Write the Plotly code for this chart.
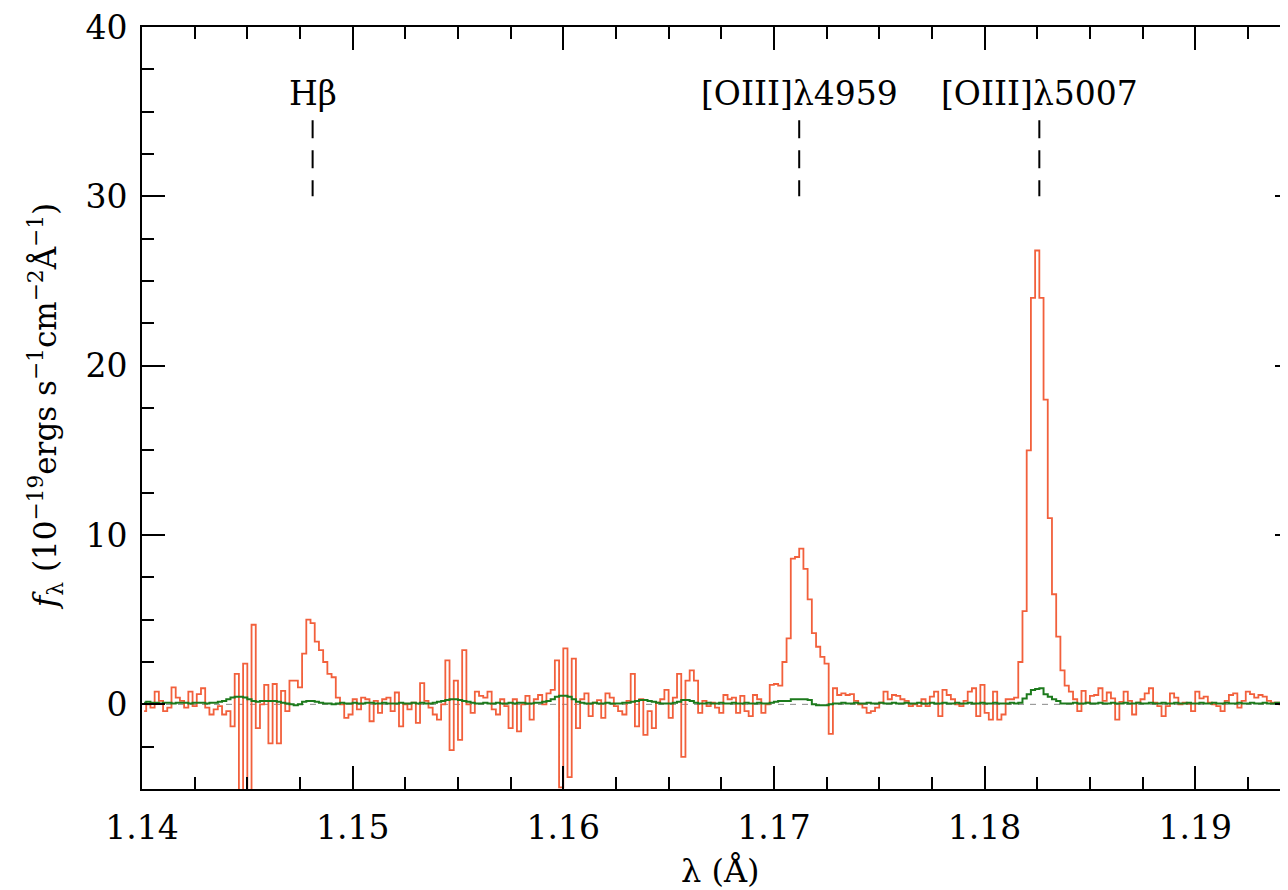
import plotly.graph_objects as go

# ---- data -------------------------------------------------------------
WAVE_START = 1.1400      # first bin edge (label units of the x axis)
WAVE_STEP = 0.0002       # bin width

FLUX = [
    -0.4, 0.0, -0.2, 0.75, 0.2, -0.4, -0.2, 1.0, 0.4, 0.2,
    -0.2, 0.75, -0.1, 0.6, 0.95, -0.2, -0.6, -0.3, -0.1, -0.6,
    -0.4, -1.3, 1.8, -5.5, 2.4, -5.5, 4.7, -1.4, 0.0, 1.15,
    -2.3, 1.2, -2.3, 0.8, -0.4, 1.4, 1.4, 1.0, 3.0, 5.0,
    4.8, 3.7, 3.2, 2.5, 1.8, 1.6, 0.4, 0.0, -0.8, -0.6,
    0.3, -0.3, 0.4, 0.3, -1.0, 0.2, -0.5, 0.3, 0.4, -0.4,
    0.7, -1.3, 0.0, -0.3, 0.1, -1.1, 1.25, 0.2, -0.2, -0.6,
    -0.9, 0.0, 2.6, -2.7, 1.4, -2.1, 3.2, 0.0, -0.5, 0.75,
    0.5, 0.4, 0.75, -0.3, -0.6, 0.3, -0.1, -1.4, 0.3, -1.6,
    0.0, 0.5, -0.9, 0.3, 0.55, 0.0, 0.65, 0.85, 2.6, -4.9,
    3.3, -4.3, 2.7, -1.4, 0.3, 0.65, -0.7, 0.1, 0.25, -0.8,
    0.65, 0.4, -0.1, -0.4, -0.6, 0.2, 1.8, -1.3, 0.3, -1.8,
    -0.4, -1.4, 0.1, 0.3, 0.85, -0.8, 0.4, 1.8, -3.1, 1.4,
    2.0, 1.4, -0.5, 0.2, -0.1, 0.1, -0.2, -0.5, 0.55, 0.3,
    0.4, -0.5, 0.5, -0.4, -0.7, 0.55, 0.3, -0.5, 0.0, 1.15,
    1.2, 1.1, 2.5, 3.9, 8.6, 8.7, 9.2, 8.0, 6.2, 4.2,
    3.4, 2.8, 2.4, -1.75, 0.95, 0.55, 0.65, 0.55, 0.6, 0.2,
    0.0, -0.2, -0.5, -0.4, -0.2, 0.1, 0.75, 0.3, 0.55, 0.5,
    0.3, 0.2, -0.1, 0.0, -0.1, 0.3, -0.1, 0.45, 0.75, -0.7,
    0.85, 0.55, 0.3, 0.0, -0.1, 0.2, 0.75, 0.95, -0.7, 1.15,
    -0.5, -0.9, 0.75, -0.9, -0.6, 0.3, 0.3, 0.4, 2.5, 5.5,
    15.0, 24.0, 26.8, 24.0, 18.0, 11.0, 6.5, 4.0, 2.0, 1.1,
    0.75, 0.3, -0.4, 0.8, 0.1, 0.5, 0.55, 0.95, 0.2, 0.7,
    0.35, -0.9, 0.15, 0.75, 0.2, -0.6, 0.1, 0.3, 0.65, 0.95,
    0.1, -0.1, -0.7, -0.1, 0.65, 0.4, 0.0, 0.1, 0.05, -0.4,
    0.75, 0.35, 0.45, 0.1, 0.0, -0.1, -0.4, 0.2, 0.55, 0.65,
    -0.2, 0.2, 0.75, 0.6, 0.4, 0.55, 0.45, 0.2, 0.1, 0.1,
    0.0, 0.1, 0.0,
]

ERROR = [
    0.1, 0.15, 0.1, 0.1, 0.05, 0.1, 0.1, 0.05, 0.1, 0.1,
    0.1, 0.05, 0.1, 0.1, 0.1, 0.05, 0.1, 0.1, 0.15, 0.2,
    0.3, 0.4, 0.45, 0.45, 0.4, 0.3, 0.2, 0.15, 0.2, 0.2,
    0.2, 0.2, 0.15, 0.1, 0.05, 0.0, -0.05, 0.0, 0.15, 0.2,
    0.2, 0.15, 0.1, 0.05, 0.05, 0.0, 0.05, 0.1, 0.05, 0.05,
    0.1, 0.05, 0.05, 0.1, 0.1, 0.05, 0.05, 0.1, 0.05, 0.05,
    0.05, 0.1, 0.05, 0.05, 0.1, 0.05, 0.1, 0.05, 0.05, 0.1,
    0.15, 0.2, 0.25, 0.3, 0.3, 0.25, 0.2, 0.15, 0.1, 0.05,
    0.05, 0.1, 0.05, 0.05, 0.1, 0.05, 0.05, 0.1, 0.05, 0.1,
    0.1, 0.05, 0.05, 0.1, 0.1, 0.15, 0.2, 0.3, 0.45, 0.5,
    0.5, 0.45, 0.3, 0.15, 0.1, 0.05, 0.05, 0.1, 0.05, 0.05,
    0.1, 0.05, 0.05, 0.05, 0.1, 0.1, 0.15, 0.2, 0.25, 0.25,
    0.2, 0.15, 0.1, 0.05, 0.05, 0.05, 0.1, 0.15, 0.25, 0.25,
    0.2, 0.1, 0.05, 0.05, 0.1, 0.05, 0.05, 0.1, 0.05, 0.05,
    0.1, 0.05, 0.05, 0.1, 0.05, 0.05, 0.1, 0.05, 0.05, 0.1,
    0.15, 0.2, 0.2, 0.2, 0.3, 0.3, 0.3, 0.3, 0.25, 0.0,
    -0.05, -0.05, -0.05, 0.0, 0.05, 0.05, 0.1, 0.05, 0.05, 0.1,
    0.05, 0.05, 0.1, 0.05, 0.05, 0.1, 0.05, 0.05, 0.1, 0.05,
    0.05, 0.1, 0.05, 0.05, 0.1, 0.05, 0.05, 0.1, 0.05, 0.05,
    0.1, 0.05, 0.05, 0.1, 0.05, 0.05, 0.1, 0.05, 0.05, 0.1,
    0.05, 0.05, 0.1, 0.05, 0.05, 0.05, 0.1, 0.05, 0.1, 0.35,
    0.6, 0.85, 0.9, 0.95, 0.6, 0.45, 0.3, 0.2, 0.05, 0.05,
    0.05, 0.1, 0.05, 0.05, 0.1, 0.05, 0.05, 0.1, 0.05, 0.05,
    0.1, 0.05, 0.05, 0.1, 0.05, 0.05, 0.1, 0.05, 0.05, 0.1,
    0.05, 0.05, 0.1, 0.05, 0.05, 0.1, 0.05, 0.05, 0.1, 0.05,
    0.05, 0.1, 0.05, 0.05, 0.1, 0.05, 0.05, 0.1, 0.05, 0.05,
    0.1, 0.05, 0.05, 0.1, 0.05, 0.05, 0.1, 0.05, 0.05, 0.1,
    0.05, 0.05, 0.1,
]

LINE_NAMES = ["Hβ", "[OIII]λ4959", "[OIII]λ5007"]
LINE_WAVES = [1.1481, 1.1712, 1.1826]

X_TICKS = [1.14, 1.15, 1.16, 1.17, 1.18, 1.19]
X_TICK_LABELS = ["1.14", "1.15", "1.16", "1.17", "1.18", "1.19"]
Y_TICKS = [0, 10, 20, 30, 40]
Y_TICK_LABELS = ["0", "10", "20", "30", "40"]

X_RANGE = [1.14, 1.19488]
Y_RANGE = [-5, 40]
MARK_BOTTOM, MARK_TOP, LABEL_Y = 30.0, 34.5, 36.1

# ---- figure ---------------------------------------------------------------
wave = [WAVE_START + WAVE_STEP * (i + 0.5) for i in range(len(FLUX))]

FONT = "DejaVu Serif"
RED = "#f2603c"
GREEN = "#1c7a1c"

fig = go.Figure()
fig.add_trace(go.Scatter(x=wave, y=FLUX, mode="lines", line_shape="hvh",
                         line=dict(color=RED, width=1.8), showlegend=False))
fig.add_trace(go.Scatter(x=wave, y=ERROR, mode="lines", line_shape="hvh",
                         line=dict(color=GREEN, width=2.0), showlegend=False))

# zero level
fig.add_shape(type="line", xref="paper", x0=0, x1=1, yref="y", y0=0, y1=0,
              line=dict(color="#888888", width=1, dash="6px,6px"), layer="below")

for name, w in zip(LINE_NAMES, LINE_WAVES):
    fig.add_shape(type="line", x0=w, x1=w, y0=MARK_TOP, y1=MARK_BOTTOM,
                  line=dict(color="black", width=2, dash="18px,12px"))
    fig.add_annotation(x=w, y=LABEL_Y, text=name, showarrow=False,
                       xanchor="center", yanchor="middle",
                       font=dict(family=FONT, size=33, color="black"))

# plot area in page pixels: left 142, top 15, width 1158 (frame runs past the window), height 774
PW, PH = 1158, 774
fig.add_annotation(xref="paper", yref="paper", x=0.5, y=(789 - 872) / PH,
                   text="λ (Å)", showarrow=False, xanchor="center", yanchor="middle",
                   font=dict(family=FONT, size=32, color="black"))
fig.add_annotation(xref="paper", yref="paper", x=(45 - 142) / PW, y=(789 - 400) / PH,
                   text="<i>f</i><sub>λ</sub> (10<sup>−19</sup>ergs s<sup>−1</sup>cm<sup>−2</sup>Å<sup>−1</sup>)",
                   textangle=-90, showarrow=False, xanchor="center", yanchor="middle",
                   font=dict(family=FONT, size=31, color="black"))

axis_common = dict(showline=True, linecolor="black", linewidth=2, mirror="ticks",
                   ticks="inside", tickwidth=2, tickcolor="black", ticklen=23,
                   showgrid=False, zeroline=False, ticklabeloverflow="allow",
                   tickfont=dict(family=FONT, size=33, color="black"))

fig.update_xaxes(range=X_RANGE, tickvals=X_TICKS, ticktext=X_TICK_LABELS,
                 minor=dict(ticks="inside", dtick=0.0025, tick0=1.14, ticklen=12,
                            tickwidth=2, tickcolor="black", showgrid=False),
                 ticklabelstandoff=8, **axis_common)
fig.update_yaxes(range=Y_RANGE, tickvals=Y_TICKS, ticktext=Y_TICK_LABELS,
                 minor=dict(ticks="inside", dtick=2.5, tick0=0, ticklen=12,
                            tickwidth=2, tickcolor="black", showgrid=False),
                 ticklabelstandoff=6, **axis_common)

# page has an 8px body margin: compensate so the plot area lands where the reference has it
fig.update_layout(width=1292, height=882,
                  margin=dict(l=134, r=0, t=7, b=101),
                  plot_bgcolor="white", paper_bgcolor="white",
                  font=dict(family=FONT, color="black"))

fig.write_html("out.html")
